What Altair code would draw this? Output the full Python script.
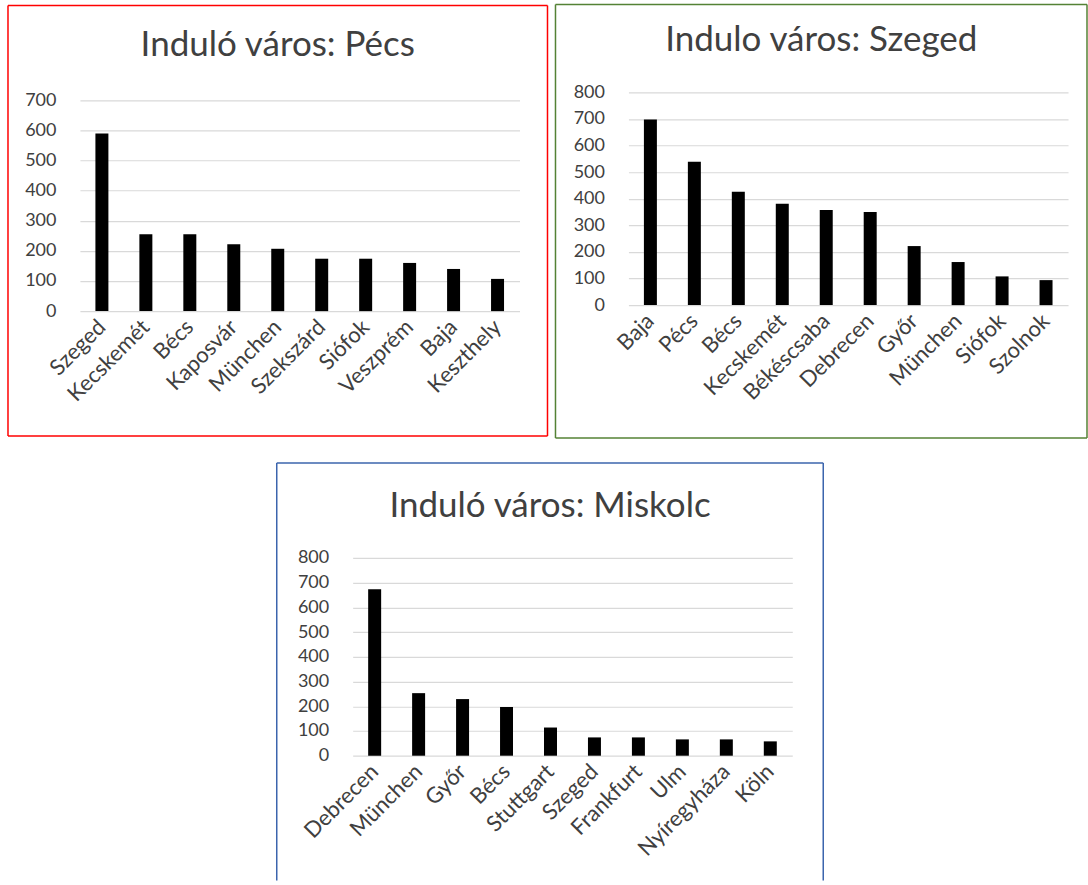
import altair as alt
import pandas as pd

# Destinations and passenger counts for each departure city
pecs_cities = ["Szeged", "Kecskemét", "Bécs", "Kaposvár", "München",
               "Szekszárd", "Siófok", "Veszprém", "Baja", "Keszthely"]
pecs_values = [590, 255, 255, 222, 207, 174, 174, 160, 140, 107]

szeged_cities = ["Baja", "Pécs", "Bécs", "Kecskemét", "Békéscsaba",
                 "Debrecen", "Győr", "München", "Siófok", "Szolnok"]
szeged_values = [698, 539, 426, 381, 358, 350, 222, 162, 108, 94]

miskolc_cities = ["Debrecen", "München", "Győr", "Bécs", "Stuttgart",
                  "Szeged", "Frankfurt", "Ulm", "Nyíregyháza", "Köln"]
miskolc_values = [673, 253, 229, 197, 114, 74, 74, 66, 66, 58]

FONT = "Lato"
TEXT = "#404040"
GRID = "#d9d9d9"

one_row = pd.DataFrame({"k": [0]})


def frame_layer(color, x0, y0, x1, y1, closed=True):
    """Outline drawn around a whole panel (pixel offsets from the plot origin)."""
    style = dict(color=color, strokeWidth=1.5)
    sides = [
        alt.Chart(one_row).mark_rule(**style).encode(x=alt.value(x0), y=alt.value(y0), y2=alt.value(y1)),
        alt.Chart(one_row).mark_rule(**style).encode(x=alt.value(x1), y=alt.value(y0), y2=alt.value(y1)),
        alt.Chart(one_row).mark_rule(**style).encode(x=alt.value(x0), x2=alt.value(x1), y=alt.value(y0)),
    ]
    if closed:
        sides.append(
            alt.Chart(one_row).mark_rule(**style).encode(x=alt.value(x0), x2=alt.value(x1), y=alt.value(y1))
        )
    return sides


def panel(title, cities, values, ymax, plot_w, plot_h, frame_color, margins,
          title_offset, headroom=0, closed=True):
    """One framed bar chart.

    margins  -- distance from the plot area to the frame (left, top, right, bottom)
    headroom -- empty pixels kept above the highest gridline
    """
    left, top, right, bottom = margins
    data = pd.DataFrame({"city": cities, "value": values})
    full_h = plot_h + headroom
    domain_top = ymax * full_h / plot_h

    bars = alt.Chart(data).mark_bar(color="black", size=13).encode(
        x=alt.X(
            "city:N", sort=None, title=None,
            scale=alt.Scale(paddingInner=0, paddingOuter=0),
            axis=alt.Axis(labelAngle=-45, labelAlign="right", labelBaseline="middle",
                          labelPadding=12, labelFont=FONT, labelFontSize=22,
                          labelColor=TEXT, domain=False, ticks=False, grid=False,
                          labelOverlap=False),
        ),
        y=alt.Y(
            "value:Q", title=None,
            scale=alt.Scale(domain=[0, domain_top], nice=False),
            axis=alt.Axis(values=list(range(0, ymax + 1, 100)), domain=False,
                          ticks=False, tickSize=0, labelPadding=24, labelFont=FONT,
                          labelFontSize=18, labelColor=TEXT, grid=True,
                          gridColor=GRID, gridWidth=1.2),
        ),
    )

    frame = frame_layer(frame_color, -left, -top, plot_w + right, full_h + bottom, closed)

    return alt.layer(*frame, bars).properties(
        width=plot_w, height=full_h,
        title=alt.TitleParams(text=title, font=FONT, fontSize=35, fontWeight="normal",
                              color=TEXT, anchor="middle", frame="bounds",
                              offset=title_offset),
    )


p1 = panel("Induló város: Pécs", pecs_cities, pecs_values, 700, 440, 211,
           "#ff0000", (72, 87, 28, 125), -58.5, headroom=8)
p2 = panel("Indulo város: Szeged", szeged_cities, szeged_values, 800, 440, 213,
           "#548235", (73, 88, 19, 133), -54.5)
p3 = panel("Induló város: Miskolc", miskolc_cities, miskolc_values, 800, 440, 198,
           "#3b64ad", (76, 95, 31, 125), -61.5, closed=False)

# blank cell that indents the bottom panel
indent = alt.Chart(one_row).mark_rule(color="white", strokeWidth=1).encode(
    x=alt.value(0), x2=alt.value(1), y=alt.value(0)
).properties(width=196, height=1)

chart = alt.vconcat(
    alt.hconcat(p1, p2, spacing=6),
    alt.hconcat(indent, p3, spacing=0),
    spacing=23,
).properties(
    padding={"left": 7, "top": 3, "right": 0, "bottom": 0},
    background="white",
).configure_view(strokeWidth=0)

chart.save("out.html", embed_options={"renderer": "svg", "actions": False})
